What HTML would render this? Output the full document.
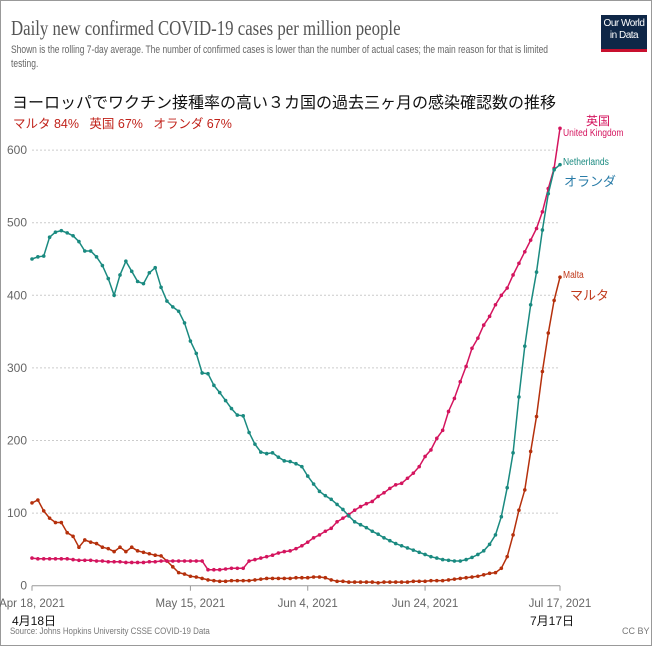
<!DOCTYPE html>
<html><head><meta charset="utf-8"><style>
body{margin:0;background:#fff;}
#wrap{position:relative;width:652px;height:646px;overflow:hidden;font-family:"Liberation Sans","Noto Sans CJK JP",sans-serif;}
.t{position:absolute;white-space:nowrap;}
</style></head><body>
<div id="wrap">
<div style="position:absolute;left:0;top:0;width:650px;height:644px;border:1px solid #999;"></div>
<div class="t" style="left:11px;top:16px;font-family:'Liberation Serif',serif;font-size:21px;color:#555;transform:scaleX(0.8);transform-origin:left;">Daily new confirmed COVID-19 cases per million people</div>
<div class="t" style="left:11px;top:43px;font-size:11px;color:#666;line-height:14px;white-space:nowrap;transform:scaleX(0.77);transform-origin:left;">Shown is the rolling 7-day average. The number of confirmed cases is lower than the number of actual cases; the main reason for that is limited<br>testing.</div>
<div style="position:absolute;left:601px;top:15px;width:46px;height:37px;background:#0f2747;border-bottom:3px solid #c8102e;color:#fff;font-size:10px;line-height:12px;text-align:center;padding-top:3px;box-sizing:border-box;letter-spacing:-0.5px;">Our World<br>in Data</div>
<div class="t" style="left:12px;top:89px;font-size:16px;color:#111;">ヨーロッパでワクチン接種率の高い３カ国の過去三ヶ月の感染確認数の推移</div>
<div class="t" style="left:13px;top:113px;font-size:12.5px;color:#c0221a;">マルタ 84%&nbsp;&nbsp;&nbsp;英国 67%&nbsp;&nbsp;&nbsp;オランダ 67%</div>
<div class="t" style="left:586px;top:112px;font-size:12px;color:#d4145e;">英国</div>
<div class="t" style="left:563px;top:128px;font-size:10px;color:#d4145e;transform:scaleX(0.85);transform-origin:left;">United Kingdom</div>
<div class="t" style="left:563px;top:157px;font-size:10px;color:#1a8a80;transform:scaleX(0.85);transform-origin:left;">Netherlands</div>
<div class="t" style="left:564px;top:171px;font-size:13px;color:#2a7ca8;">オランダ</div>
<div class="t" style="left:563px;top:270px;font-size:10px;color:#c0391b;transform:scaleX(0.85);transform-origin:left;">Malta</div>
<div class="t" style="left:570px;top:285px;font-size:13px;color:#c0391b;">マルタ</div>
<div class="t" style="left:12px;top:612px;font-size:12px;color:#111;">4月18日</div>
<div class="t" style="left:530px;top:612px;font-size:12px;color:#111;">7月17日</div>
<div class="t" style="left:10px;top:626px;font-size:9px;color:#777;transform:scaleX(0.88);transform-origin:left;">Source: Johns Hopkins University CSSE COVID-19 Data</div>
<div class="t" style="left:622px;top:626px;font-size:9px;color:#777;">CC BY</div>
<svg id="chart" width="652" height="646" style="position:absolute;left:0;top:0;"></svg>
</div>
<script>
const yTicks=[0,100,200,300,400,500,600];
const xTickIdx=[0,27,47,67,90];
const xTickLabels=["Apr 18, 2021","May 15, 2021","Jun 4, 2021","Jun 24, 2021","Jul 17, 2021"];
const netherlands=[450,453,454,480,487,489,486,482,474,461,461,453,441,423,400,428,447,433,419,416,431,438,411,392,384,378,362,337,320,293,292,276,266,255,244,235,234,211,195,184,182,183,177,172,171,168,164,151,140,130,124,119,112,105,96,88,84,80,75,71,66,62,58,55,52,49,46,43,40,38,36,35,34,34,36,39,43,48,57,70,95,135,183,260,330,387,432,490,540,573,580];
const uk=[38,37,37,37,37,37,37,36,35,35,35,34,34,33,33,33,32,32,32,32,33,33,34,34,34,34,34,34,34,34,22,22,22,23,24,24,24,34,36,38,40,42,45,47,48,51,55,60,66,70,75,79,88,93,98,104,109,113,116,123,128,134,139,141,148,155,164,178,187,203,214,240,258,281,302,327,341,359,371,387,400,410,428,444,460,476,492,515,547,575,630];
const malta=[114,118,103,93,87,87,73,68,53,63,60,58,53,51,47,53,47,53,48,46,44,42,41,34,26,18,16,13,12,10,8,7,6,6,7,7,7,7,8,9,10,10,10,10,10,11,11,11,12,12,11,8,6,6,5,5,5,5,5,4,5,5,5,5,5,6,6,6,7,7,7,8,9,10,11,12,13,15,17,18,24,40,70,104,132,185,233,295,348,393,425];
const NS="http://www.w3.org/2000/svg";
const svg=document.getElementById('chart');
const X0=32,X1=560,Y0=585.7,YS=0.726;
const xs=i=>X0+(X1-X0)*i/90;
const ys=v=>Y0-v*YS;
function mk(t,a){const e=document.createElementNS(NS,t);for(const k in a)e.setAttribute(k,a[k]);svg.appendChild(e);return e;}
yTicks.forEach(v=>{
  if(v>0){const g=mk('line',{x1:X0,x2:X1,y1:ys(v),y2:ys(v),stroke:'#ccc','stroke-dasharray':'2,2'});
  
  }
  const t=mk('text',{x:27,y:ys(v)+4,'text-anchor':'end','font-size':'12','fill':'#666','font-family':'Liberation Sans, sans-serif'});
  t.textContent=v;
  
  
});
const ax=mk('line',{x1:X0,x2:X1,y1:Y0,y2:Y0,stroke:'#999'});


xTickIdx.forEach((d,k)=>{
  const tk=mk('line',{x1:xs(d),x2:xs(d),y1:Y0,y2:Y0+5,stroke:'#999'});
  
  
  const t=mk('text',{x:xs(d),y:607,'text-anchor':'middle','font-size':'11.5','fill':'#666','font-family':'Liberation Sans, sans-serif'});
  t.textContent=xTickLabels[k];
  
  
});
function series(arr,color,name){
  const d=arr.map((v,i)=>(i?'L':'M')+xs(i).toFixed(1)+' '+ys(v).toFixed(1)).join(' ');
  const p=mk('path',{d:d,fill:'none',stroke:color,'stroke-width':'1.5'});
  
  
  arr.forEach((v,i)=>{
    const c=mk('circle',{cx:xs(i),cy:ys(v),r:1.8,fill:color});
    
    
  });
}
series(malta,'#b5300c','malta');
series(uk,'#d4145e','uk');
series(netherlands,'#1a8a80','netherlands');
</script>
</body></html>
